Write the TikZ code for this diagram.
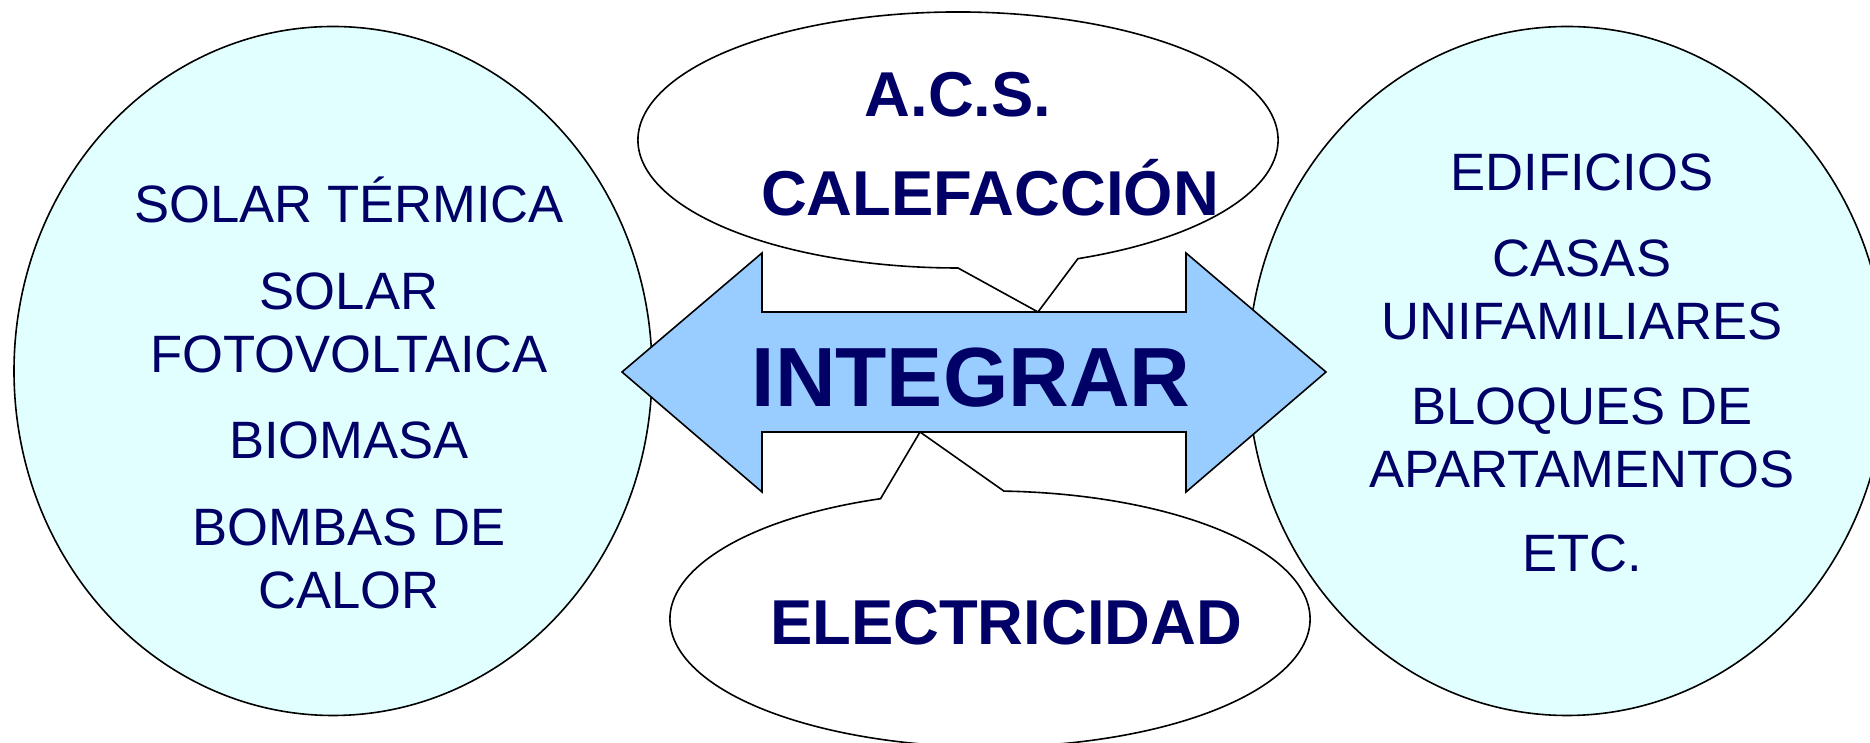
\documentclass[tikz,border=0pt]{standalone}
\usepackage{fontspec}
\setmainfont{Liberation Sans}
\usetikzlibrary{shapes.geometric}
\definecolor{navy}{HTML}{000066}
\definecolor{paleblue}{HTML}{99CCFF}
\definecolor{palecyan}{HTML}{E1FFFF}

\begin{document}
\begin{tikzpicture}[x=0.5pt,y=0.5pt]
        \tikzset{bubble/.style = {shape=ellipse,draw,fill=palecyan,line width=0.8pt,minimum width=319pt,minimum height=344.5pt,inner sep=0pt}}
        \tikzset{item/.style = {anchor=base,text=navy,inner sep=0pt,font=\fontsize{26.3}{30}\selectfont}}
        \tikzset{topic/.style = {anchor=base,text=navy,inner sep=0pt,font=\fontsize{31.7}{36}\selectfont\bfseries}}
        \tikzset{callout/.style = {draw,fill=white,line width=0.8pt,line join=miter}}
        \useasboundingbox (0,0) rectangle (1870,743);
        % circles
        \node[bubble] (src) at (333,372) {};
        \node[bubble] (use) at (1567,372) {};
        % callouts
        \coordinate (acs) at (958,603);
        \coordinate (acstip) at (1038,431);
        \coordinate (elec) at (990,124);
        \coordinate (electip) at (920,311);
        \draw[callout] (acs) ++(292:320 and 128) arc[start angle=292,end angle=630,x radius=320,y radius=128] -- (acstip) -- cycle;
        \draw[callout] (elec) ++(110:320 and 128) arc[start angle=110,end angle=447.5,x radius=320,y radius=128] -- (electip) -- cycle;
        % arrow
        \draw[line width=0.8pt,fill=paleblue,line join=miter] (622,371) -- (762,490) -- (762,431) -- (1186,431) -- (1186,490) -- (1326,371)
                -- (1186,251) -- (1186,311) -- (762,311) -- (762,251) -- cycle;
        \node[anchor=base,text=navy,inner sep=0pt,font=\fontsize{42}{48}\selectfont\bfseries] (mid) at (971,336) {INTEGRAR};
        % texts
        \node[topic] (t1) at (958,626) {A.C.S.};
        \node[topic] (t2) at (990,527) {CALEFACCIÓN};
        \node[topic] (t3) at (1006,98) {ELECTRICIDAD};
        \node[item] (l1) at (349,520) {SOLAR TÉRMICA};
        \node[item] (l2) at (349,433) {SOLAR};
        \node[item] (l3) at (349,370) {FOTOVOLTAICA};
        \node[item] (l4) at (349,284) {BIOMASA};
        \node[item] (l5) at (349,197) {BOMBAS DE};
        \node[item] (l6) at (349,134) {CALOR};
        \node[item] (r1) at (1582,552) {EDIFICIOS};
        \node[item] (r2) at (1582,466) {CASAS};
        \node[item] (r3) at (1582,403) {UNIFAMILIARES};
        \node[item] (r4) at (1582,318) {BLOQUES DE};
        \node[item] (r5) at (1582,255) {APARTAMENTOS};
        \node[item] (r6) at (1582,171) {ETC.};
\end{tikzpicture}
\end{document}
